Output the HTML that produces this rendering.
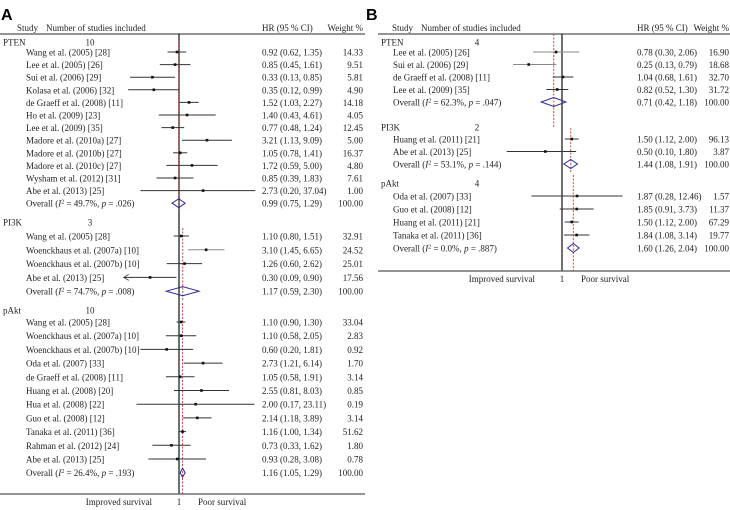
<!DOCTYPE html>
<html><head><meta charset="utf-8"><style>
html,body{margin:0;padding:0;background:#fff}
svg{display:block}
text{font-family:"Liberation Serif",serif;font-size:9px;fill:#222}
.lbl{font-family:"Liberation Sans",sans-serif;font-weight:bold;font-size:16px;fill:#000}
</style></head><body>
<svg id="chart" width="730" height="510" xmlns="http://www.w3.org/2000/svg"></svg>
<script>
// ---- Panel A data ----
const aGroups = ["PTEN","PI3K","pAkt"];
const aCounts = ["10","3","10"];
const aStudiesPTEN = ["Wang et al. (2005) [28]","Lee et al. (2005) [26]","Sui et al. (2006) [29]","Kolasa et al. (2006) [32]","de Graeff et al. (2008) [11]","Ho et al. (2009) [23]","Lee et al. (2009) [35]","Madore et al. (2010a) [27]","Madore et al. (2010b) [27]","Madore et al. (2010c) [27]","Wysham et al. (2012) [31]","Abe et al. (2013) [25]"];
const aHrPTEN = [0.92,0.85,0.33,0.35,1.52,1.40,0.77,3.21,1.05,1.72,0.85,2.73];
const aLoPTEN = [0.62,0.45,0.13,0.12,1.03,0.43,0.48,1.13,0.78,0.59,0.39,0.20];
const aHiPTEN = [1.35,1.61,0.85,0.99,2.27,4.61,1.24,9.09,1.41,5.00,1.83,37.04];
const aWPTEN = ["14.33","9.51","5.81","4.90","14.18","4.05","12.45","5.00","16.37","4.80","7.61","1.00"];
const aStudiesPI3K = ["Wang et al. (2005) [28]","Woenckhaus et al. (2007a) [10]","Woenckhaus et al. (2007b) [10]","Abe et al. (2013) [25]"];
const aHrPI3K = [1.10,3.10,1.26,0.30];
const aLoPI3K = [0.80,1.45,0.60,0.09];
const aHiPI3K = [1.51,6.65,2.62,0.90];
const aWPI3K = ["32.91","24.52","25.01","17.56"];
const aStudiesPAkt = ["Wang et al. (2005) [28]","Woenckhaus et al. (2007a) [10]","Woenckhaus et al. (2007b) [10]","Oda et al. (2007) [33]","de Graeff et al. (2008) [11]","Huang et al. (2008) [20]","Hua et al. (2008) [22]","Guo et al. (2008) [12]","Tanaka et al. (2011) [36]","Rahman et al. (2012) [24]","Abe et al. (2013) [25]"];
const aHrPAkt = [1.10,1.10,0.60,2.73,1.05,2.55,2.00,2.14,1.16,0.73,0.93];
const aLoPAkt = [0.90,0.58,0.20,1.21,0.58,0.81,0.17,1.18,1.00,0.33,0.28];
const aHiPAkt = [1.30,2.05,1.81,6.14,1.91,8.03,23.11,3.89,1.34,1.62,3.08];
const aWPAkt = ["33.04","2.83","0.92","1.70","3.14","0.85","0.19","3.14","51.62","1.80","0.78"];
const aOverallLabel = ["Overall (I² = 49.7%, p = .026)","Overall (I² = 74.7%, p = .008)","Overall (I² = 26.4%, p = .193)"];
const aOvHr = [0.99,1.17,1.16];
const aOvLo = [0.75,0.59,1.05];
const aOvHi = [1.29,2.30,1.29];
// ---- Panel B data ----
const bGroups = ["PTEN","PI3K","pAkt"];
const bCounts = ["4","2","4"];
const bStudiesPTEN = ["Lee et al. (2005) [26]","Sui et al. (2006) [29]","de Graeff et al. (2008) [11]","Lee et al. (2009) [35]"];
const bHrPTEN = [0.78,0.25,1.04,0.82];
const bLoPTEN = [0.30,0.13,0.68,0.52];
const bHiPTEN = [2.06,0.79,1.61,1.30];
const bWPTEN = ["16.90","18.68","32.70","31.72"];
const bStudiesPI3K = ["Huang et al. (2011) [21]","Abe et al. (2013) [25]"];
const bHrPI3K = [1.50,0.50];
const bLoPI3K = [1.12,0.10];
const bHiPI3K = [2.00,1.80];
const bWPI3K = ["96.13","3.87"];
const bStudiesPAkt = ["Oda et al. (2007) [33]","Guo et al. (2008) [12]","Huang et al. (2011) [21]","Tanaka et al. (2011) [36]"];
const bHrPAkt = [1.87,1.85,1.50,1.84];
const bLoPAkt = [0.28,0.91,1.12,1.08];
const bHiPAkt = [12.46,3.73,2.00,3.14];
const bWPAkt = ["1.57","11.37","67.29","19.77"];
const bOverallLabel = ["Overall (I² = 62.3%, p = .047)","Overall (I² = 53.1%, p = .144)","Overall (I² = 0.0%, p = .887)"];
const bOvHr = [0.71,1.44,1.60];
const bOvLo = [0.42,1.08,1.26];
const bOvHi = [1.18,1.91,2.04];

const NS="http://www.w3.org/2000/svg";
const svg=document.getElementById('chart');
function el(tag,attrs,parent){const e=document.createElementNS(NS,tag);for(const k in attrs)e.setAttribute(k,attrs[k]);(parent||svg).appendChild(e);return e;}
function txt(x,y,s,anchor,parent){const t=el('text',{x:x,y:y,'text-anchor':anchor||'start'},parent);t.textContent=s;return t;}
function fmt(v){return v.toFixed(2);}

function panel(P){
  const g=el('g',{});
  
  
  const xs=v=>P.x1+P.k*Math.log(v);
  const L=el('text',{x:P.letterX,y:20,class:'lbl'},g);L.textContent=P.letter;
  
  
  const hdr=el('g',{},g);
  
  
  txt(P.studyX,31,'Study','start',hdr);
  txt(P.studyX+29,31,'Number of studies included','start',hdr);
  txt(P.hrX,31,'HR (95 % CI)','start',hdr);
  txt(P.wX,31,'Weight %','end',hdr);
  el('line',{x1:P.lineL,x2:P.lineR,y1:34,y2:34,stroke:'#555','stroke-width':1.2},g);
  const nl=el('line',{x1:P.x1,x2:P.x1,y1:34,y2:P.axisY,stroke:'#222','stroke-width':1.3},g);
  
  
  P.groups.forEach((gr,gi)=>{
    const S=P.sets[gi];
    const gg=el('g',{},g);
    
    
    txt(P.groupX,S.hy+3.5,gr,'start',gg);
    txt(P.countX,S.hy+3.5,P.counts[gi],'middle',gg);
    const ovY=S.y0+S.names.length*S.step;
    const dl=el('line',{x1:xs(S.ovHr),x2:xs(S.ovHr),y1:S.dashTop,y2:S.dashBot,stroke:'#c0392b','stroke-width':0.9,'stroke-dasharray':'2,1.5'},gg);
    
    
    S.names.forEach((n,i)=>{
      const y=S.y0+i*S.step;
      const r=el('g',{},gg);
      
      
      txt(P.nameX,y+3.5,n,'start',r);
      const lo=Math.max(S.lo[i],P.min), hi=Math.min(S.hi[i],P.max);
      const col=(S.gray&&S.gray.includes(i))?'#888':'#333';
      el('line',{x1:xs(lo),x2:xs(hi),y1:y,y2:y,stroke:col,'stroke-width':1},r);
      if(S.lo[i]<P.min) el('path',{d:`M${xs(lo)+5},${y-3} L${xs(lo)},${y} L${xs(lo)+5},${y+3}`,fill:'none',stroke:col,'stroke-width':0.8},r);
      if(S.hi[i]>P.max && S.hi[i]<P.arrowLimit) el('path',{d:`M${xs(hi)-5},${y-3} L${xs(hi)},${y} L${xs(hi)-5},${y+3}`,fill:'none',stroke:col,'stroke-width':0.8},r);
      el('rect',{x:xs(S.hr[i])-1.3,y:y-1.3,width:2.6,height:2.6,fill:'#111'},r);
      txt(P.hrX,y+3.5,`${fmt(S.hr[i])} (${fmt(S.lo[i])}, ${fmt(S.hi[i])})`,'start',r);
      txt(P.wX,y+3.5,S.w[i],'end',r);
    });
    const o=el('g',{},gg);
    
    
    const ot=txt(P.nameX,ovY+3.5,'','start',o);
    const parts=S.ovLabel.match(/^(Overall \()I²( = [^,]+, )p( = .*)$/);
    const t1=el('tspan',{},ot);t1.textContent=parts[1];
    const t2=el('tspan',{'font-style':'italic'},ot);t2.textContent='I';
    const t3=el('tspan',{'font-size':'6px',dy:-3},ot);t3.textContent='2';
    const t4=el('tspan',{dy:3},ot);t4.textContent=parts[2];
    const t5=el('tspan',{'font-style':'italic'},ot);t5.textContent='p';
    const t6=el('tspan',{},ot);t6.textContent=parts[3];
    const dm=el('path',{d:`M${xs(S.ovLo)},${ovY} L${xs(S.ovHr)},${ovY-4.5} L${xs(S.ovHi)},${ovY} L${xs(S.ovHr)},${ovY+4.5} Z`,fill:'none',stroke:'#2b2b8a','stroke-width':1},o);
    
    
    txt(P.hrX,ovY+3.5,`${fmt(S.ovHr)} (${fmt(S.ovLo)}, ${fmt(S.ovHi)})`,'start',o);
    txt(P.wX,ovY+3.5,'100.00','end',o);
  });
  const ax=el('line',{x1:P.lineL,x2:P.lineR,y1:P.axisY,y2:P.axisY,stroke:'#555','stroke-width':1.3},g);
  
  
  const xl=el('g',{},g);
  
  
  txt(P.x1-27,P.axisY+11,'Improved survival','end',xl);
  txt(P.x1,P.axisY+11,'1','middle',xl);
  txt(P.x1+19,P.axisY+11,'Poor survival','start',xl);
}

panel({name:'panel-a',letter:'A',letterX:1,x1:179,k:24,min:0.1,max:24,arrowLimit:30,lineL:0,lineR:365,axisY:494,
  studyX:17,hrX:262,wX:363,groupX:3,countX:90,nameX:26,groups:aGroups,counts:aCounts,
  sets:[
   {hy:42,y0:52,step:12.6,names:aStudiesPTEN,hr:aHrPTEN,lo:aLoPTEN,hi:aHiPTEN,w:aWPTEN,ovLabel:aOverallLabel[0],ovHr:aOvHr[0],ovLo:aOvLo[0],ovHi:aOvHi[0],dashTop:40,dashBot:210},
   {hy:222,y0:236,step:13.8,names:aStudiesPI3K,hr:aHrPI3K,lo:aLoPI3K,hi:aHiPI3K,w:aWPI3K,ovLabel:aOverallLabel[1],ovHr:aOvHr[1],ovLo:aOvLo[1],ovHi:aOvHi[1],dashTop:228,dashBot:300,gray:[1]},
   {hy:310,y0:322,step:13.7,names:aStudiesPAkt,hr:aHrPAkt,lo:aLoPAkt,hi:aHiPAkt,w:aWPAkt,ovLabel:aOverallLabel[2],ovHr:aOvHr[2],ovLo:aOvLo[2],ovHi:aOvHi[2],dashTop:303,dashBot:494}
  ]});
panel({name:'panel-b',letter:'B',letterX:366,x1:562,k:24,min:0.1,max:24,arrowLimit:30,lineL:378,lineR:730,axisY:271,
  studyX:392,hrX:637,wX:729,groupX:381,countX:477,nameX:393,groups:bGroups,counts:bCounts,
  sets:[
   {hy:42,y0:52,step:12.5,names:bStudiesPTEN,hr:bHrPTEN,lo:bLoPTEN,hi:bHiPTEN,w:bWPTEN,ovLabel:bOverallLabel[0],ovHr:bOvHr[0],ovLo:bOvLo[0],ovHi:bOvHi[0],dashTop:34,dashBot:128,gray:[0,1]},
   {hy:127,y0:139,step:12.5,names:bStudiesPI3K,hr:bHrPI3K,lo:bLoPI3K,hi:bHiPI3K,w:bWPI3K,ovLabel:bOverallLabel[1],ovHr:bOvHr[1],ovLo:bOvLo[1],ovHi:bOvHi[1],dashTop:128,dashBot:172},
   {hy:183,y0:196,step:13,names:bStudiesPAkt,hr:bHrPAkt,lo:bLoPAkt,hi:bHiPAkt,w:bWPAkt,ovLabel:bOverallLabel[2],ovHr:bOvHr[2],ovLo:bOvLo[2],ovHi:bOvHi[2],dashTop:175,dashBot:271}
  ]});
</script>
</body></html>
